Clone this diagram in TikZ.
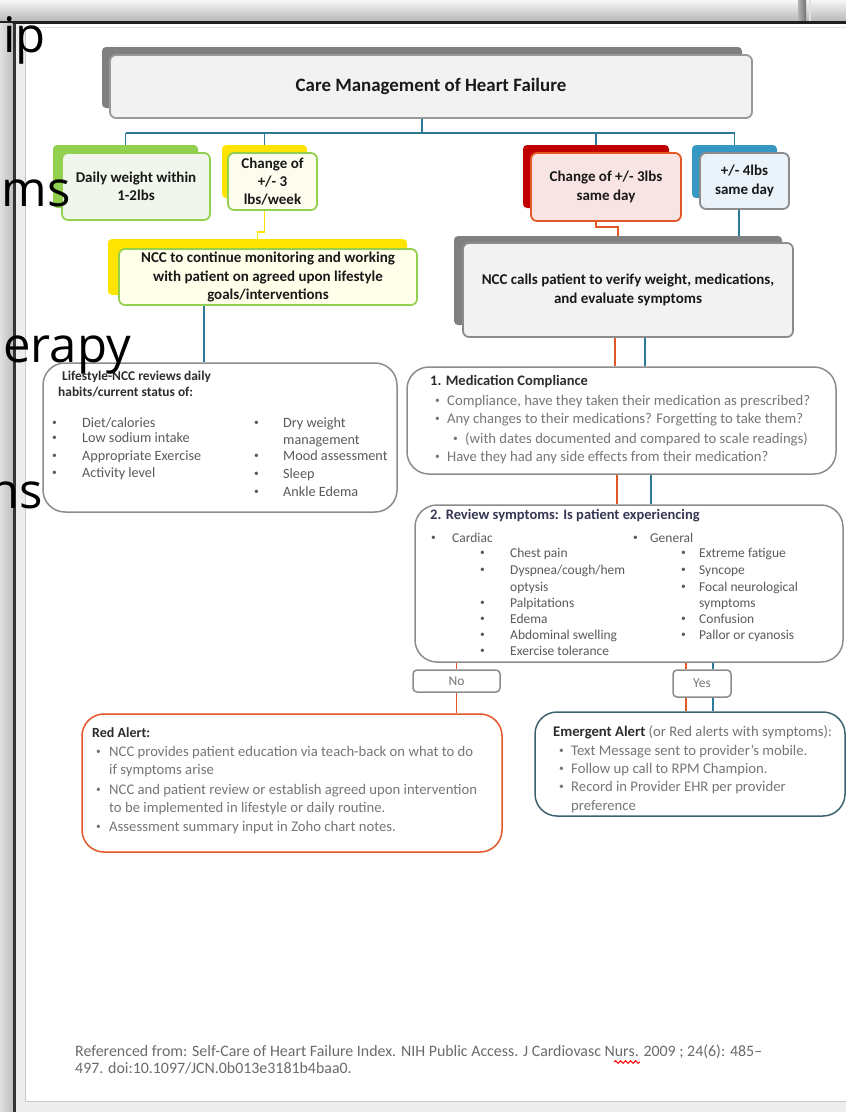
\documentclass[tikz,border=0pt]{standalone}
\usepackage{fontspec}
\setmainfont{Carlito}
\newfontfamily\bigfont{Open Sans}
\usetikzlibrary{decorations.pathmorphing}
\definecolor{cTeal}{RGB}{47,121,152}
\definecolor{cOr}{RGB}{227,88,38}
\definecolor{cYel}{RGB}{255,228,0}
\definecolor{cGreen}{RGB}{146,208,80}
\definecolor{cRed}{RGB}{192,0,0}
\definecolor{cBlue}{RGB}{56,152,196}
\definecolor{cShadow}{RGB}{128,128,128}
\definecolor{cBorder}{RGB}{140,140,140}
\definecolor{cPanel}{RGB}{242,242,242}
\definecolor{cDark}{RGB}{45,45,45}
\definecolor{cBody}{RGB}{90,90,90}
\definecolor{cLight}{RGB}{118,118,118}
\definecolor{cEmer}{RGB}{60,100,112}
\definecolor{cRev}{RGB}{55,55,85}
\newcommand\fs[2]{\fontsize{#1}{#2}\selectfont}
\begin{document}
\begin{tikzpicture}[x=1pt,y=-1pt,
  shbox/.style={rounded corners=4, inner sep=0, draw=none},
  frbox/.style={rounded corners=6, inner sep=0, line width=1.8, align=center, text=black!90, font=\bfseries\fs{15}{18.3}},
  bigbox/.style={rounded corners=22, inner sep=0, line width=1.5, draw=cBorder},
  tb/.style={anchor=base west, inner sep=0},
  bul/.style={anchor=base west, inner sep=0, yshift=1.6, font=\fs{9.5}{10}},
  tl/.style={draw=cTeal, line width=1.5},
  ol/.style={draw=cOr, line width=1.5},
  yl/.style={draw=cYel, line width=1.5},
  btext/.style={text=cBody, font=\fs{14.2}{17}},
  rtext/.style={text=cBody, font=\fs{13.5}{16}},
  mtext/.style={text=cLight, font=\fs{14.7}{18}},
  frag/.style={anchor=base east, inner sep=0, font=\bigfont\fs{49}{55}, text=black}]
\useasboundingbox (0,0) rectangle (846,1112);
% ---------- window frame ----------
\fill[white] (0,0) rectangle (846,1112);
\shade[top color=black!3, bottom color=black!28] (0,0) rectangle (846,21);
\shade[left color=black!30, right color=black!55] (798,0) rectangle (806,21);
\fill[black!12] (809,0) rectangle (811,21);
\fill[black!88] (0,21) rectangle (846,23.5);
\shade[left color=black!12, right color=black!25] (0,23.5) rectangle (12.5,1112);
\fill[black!80] (12.5,23.5) rectangle (15.5,1112);
\fill[black!7] (15.5,23.5) rectangle (25,1112);
\fill[black!7] (25,1102) rectangle (846,1112);
\draw[black!22, line width=1] (25.5,27) -- (25.5,1101.5) -- (846,1101.5);
\draw[black!12, line width=1] (25.5,27) -- (846,27);
% ---------- connectors ----------
\coordinate (bus) at (0,133);
\coordinate (bx) at (739,0);
\coordinate (lx) at (204,0);
\coordinate (o1) at (615,0);
\coordinate (t1) at (645,0);
\coordinate (o2) at (617,0);
\coordinate (t2) at (651,0);
\coordinate (o3) at (686,0);
\coordinate (t3) at (713,0);
\coordinate (j1) at (0,232);
\coordinate (j2) at (0,227);
% shadows (parents)
\node[shbox, fill=cShadow, minimum width=640, minimum height=61] (titleS) at (422,77.5) {};
\node[shbox, fill=cGreen, minimum width=145, minimum height=63] (greenS) at (125.5,176.5) {};
\node[shbox, fill=cYel, minimum width=85, minimum height=53] (yellowS) at (264.5,171.5) {};
\node[shbox, fill=cYel, minimum width=299, minimum height=56] (nccS) at (257.5,267) {};
\node[shbox, fill=cRed, minimum width=146, minimum height=63] (redS) at (596,176.5) {};
\node[shbox, fill=cBlue, minimum width=85, minimum height=53] (blueS) at (734.5,171.5) {};
\node[shbox, fill=cShadow, minimum width=328, minimum height=89] (callS) at (618,280.5) {};
% tree lines
\draw[tl] (titleS.south) -- (titleS.south |- bus);
\draw[tl] (greenS.north |- bus) -- (blueS.north |- bus);
\draw[tl] (greenS.north |- bus) -- (greenS.north);
\draw[tl] (yellowS.north |- bus) -- (yellowS.north);
\draw[tl] (redS.north |- bus) -- (redS.north);
\draw[tl] (blueS.north |- bus) -- (blueS.north);
\draw[yl] (yellowS.south) -- (yellowS.south |- j1) -| (nccS.north);
\draw[ol] (redS.south) -- (redS.south |- j2) -| (callS.north);
\draw[tl] (blueS.south) -- ++(0,8) -| (callS.north -| bx);
% front boxes
\node[frbox, draw=black!40, fill=cPanel, minimum width=642, minimum height=63, font=\bfseries\fs{18.9}{22}] (titleF) at (431,86.5) {Care Management of Heart Failure};
\node[frbox, draw=cGreen, fill={rgb,255:red,241;green,246;blue,237}, minimum width=148, minimum height=67] (greenF) at (136,186.5) {Daily weight within\\1-2lbs};
\node[frbox, draw=cGreen, fill={rgb,255:red,253;green,252;blue,238}, minimum width=89, minimum height=57] (yellowF) at (272.5,181.5) {Change of\\+/- 3\\lbs/week};
\node[frbox, draw=cGreen, fill={rgb,255:red,255;green,255;blue,234}, minimum width=298, minimum height=56] (nccF) at (268,277) {NCC to continue monitoring and working\\with patient on agreed upon lifestyle\\goals/interventions};
\node[frbox, draw=cOr, fill={rgb,255:red,249;green,228;blue,228}, minimum width=150, minimum height=68] (redF) at (606,187) {Change of +/- 3lbs\\same day};
\node[frbox, draw=black!45, fill={rgb,255:red,234;green,243;blue,250}, minimum width=89, minimum height=56] (blueF) at (744.5,181) {+/- 4lbs\\same day};
\node[frbox, draw=black!45, fill=cPanel, minimum width=330, minimum height=94] (callF) at (628,290) {NCC calls patient to verify weight, medications,\\and evaluate symptoms};
% big rounded boxes
\node[bigbox, fill=white, minimum width=354, minimum height=149] (life) at (220,437.5) {};
\node[bigbox, fill=white, minimum width=429, minimum height=107] (med) at (621.5,420.5) {};
\node[bigbox, fill=white, minimum width=428, minimum height=157] (rev) at (629,583.5) {};
\node[bigbox, rounded corners=4, fill=white, minimum width=87, minimum height=22, text=cLight, font=\fs{13.5}{16}] (no) at (456.5,681) {No};
\node[bigbox, rounded corners=4, fill=white, minimum width=58, minimum height=27, text=cLight, font=\fs{13.5}{16}] (yes) at (702,683.5) {Yes};
\node[bigbox, draw=cOr, fill=white, minimum width=420, minimum height=138] (redal) at (292,783) {};
\node[bigbox, draw=cEmer, fill=white, minimum width=310, minimum height=104] (emer) at (690,764) {};
% lower connectors
\draw[tl] (nccF.south -| lx) -- (life.north -| lx);
\draw[ol] (callF.south -| o1) -- (med.north -| o1);
\draw[tl] (callF.south -| t1) -- (med.north -| t1);
\draw[ol] (med.south -| o2) -- (rev.north -| o2);
\draw[tl] (med.south -| t2) -- (rev.north -| t2);
\draw[ol] (rev.south -| no.north) -- (no.north);
\draw[ol] (no.south) -- (redal.north -| no.south);
\draw[ol] (rev.south -| o3) -- (yes.north -| o3);
\draw[tl] (rev.south -| t3) -- (yes.north -| t3);
\draw[ol] (yes.south -| o3) -- (emer.north -| o3);
\draw[tl] (yes.south -| t3) -- (emer.north -| t3);
% ---------- lifestyle texts ----------
\node[tb, text=cDark, font=\bfseries\fs{13.4}{16}] (lh1) at (62,380.5) {Lifestyle-NCC reviews daily};
\node[tb, text=cDark, font=\bfseries\fs{13.4}{16}] (lh2) at (58,396.5) {habits/current status of:};
\foreach \t/\y [count=\i] in {{Diet/calories}/427, {Low sodium intake}/442, {Appropriate Exercise}/460, {Activity level}/477}{
  \node[bul, text=cBody] (lb\i) at (52,\y) {•};
  \node[tb, btext] (lt\i) at (82,\y) {\t};
}
\foreach \t/\y [count=\i] in {{Dry weight}/427, {Mood assessment}/460, {Sleep}/478, {Ankle Edema}/496}{
  \node[bul, text=cBody] (rb\i) at (254,\y) {•};
  \node[tb, btext] (rt\i) at (283,\y) {\t};
}
\node[tb, btext] (rt5) at (283,444) {management};
% ---------- medication texts ----------
\node[tb, text=cDark, font=\bfseries\fs{14.5}{17}] (mh) at (430,385) {1. Medication Compliance};
\foreach \t/\y [count=\i] in {{Compliance, have they taken their medication as prescribed?}/405, {Any changes to their medications? Forgetting to take them?}/423, {Have they had any side effects from their medication?}/461}{
  \node[bul, text=cLight] (mb\i) at (435,\y) {•};
  \node[tb, mtext] (mt\i) at (447,\y) {\t};
}
\node[bul, text=cLight] (mb4) at (453,443) {•};
\node[tb, mtext] (mt4) at (465,443) {(with dates documented and compared to scale readings)};
% ---------- review texts ----------
\node[tb, text=cRev, font=\bfseries\fs{14.5}{17}] (rh) at (430,519) {2. Review symptoms: Is patient experiencing};
\node[bul, text=cBody] (cb) at (431,542) {•};
\node[tb, rtext] (ct) at (452,542) {Cardiac};
\node[bul, text=cBody] (gb) at (633,542) {•};
\node[tb, rtext] (gt) at (650,542) {General};
\foreach \t/\y [count=\i] in {{Chest pain}/557, {Dyspnea/cough/hem}/574, {Palpitations}/607, {Edema}/623, {Abdominal swelling}/639, {Exercise tolerance}/655}{
  \node[bul, text=cBody] (cbb\i) at (480,\y) {•};
  \node[tb, rtext] (ctt\i) at (510,\y) {\t};
}
\node[tb, rtext] (ctt7) at (510,591) {optysis};
\foreach \t/\y [count=\i] in {{Extreme fatigue}/557, {Syncope}/574, {Focal neurological}/591, {Confusion}/623, {Pallor or cyanosis}/639}{
  \node[bul, text=cBody] (gbb\i) at (681,\y) {•};
  \node[tb, rtext] (gtt\i) at (699,\y) {\t};
}
\node[tb, rtext] (gtt6) at (699,607) {symptoms};
% ---------- red alert texts ----------
\node[tb, text=cDark, font=\bfseries\fs{14}{17}] (ra) at (92,737) {Red Alert:};
\node[bul, text=cLight] (rab1) at (96,756) {•};
\node[tb, mtext] (rat1) at (109,756) {NCC provides patient education via teach-back on what to do};
\node[tb, mtext] (rat2) at (109,774) {if symptoms arise};
\node[bul, text=cLight] (rab3) at (96,794) {•};
\node[tb, mtext] (rat3) at (109,794) {NCC and patient review or establish agreed upon intervention};
\node[tb, mtext] (rat4) at (109,812) {to be implemented in lifestyle or daily routine.};
\node[bul, text=cLight] (rab5) at (96,831) {•};
\node[tb, mtext] (rat5) at (109,831) {Assessment summary input in Zoho chart notes.};
% ---------- emergent texts ----------
\node[tb, mtext] (ea) at (553,736) {\textcolor{cDark}{\bfseries Emergent Alert} (or Red alerts with symptoms):};
\node[bul, text=cLight] (eb1) at (559,755) {•};
\node[tb, mtext] (et1) at (571,755) {Text Message sent to provider’s mobile.};
\node[bul, text=cLight] (eb2) at (559,773) {•};
\node[tb, mtext] (et2) at (571,773) {Follow up call to RPM Champion.};
\node[bul, text=cLight] (eb3) at (559,791) {•};
\node[tb, mtext] (et3) at (571,791) {Record in Provider EHR per provider};
\node[tb, mtext] (et4) at (571,810) {preference};
% ---------- footer ----------
\node[tb, text=black!58, font=\fs{15.9}{17}] (f1) at (75,1056) {Referenced from: Self-Care of Heart Failure Index. NIH Public Access. J Cardiovasc Nurs. 2009 ; 24(6): 485–};
\node[tb, text=black!58, font=\fs{15.9}{17}] (f2) at (75,1073) {497. doi:10.1097/JCN.0b013e3181b4baa0.};
\draw[red, line width=1, decorate, decoration={snake, amplitude=1.3, segment length=5}] (614,1062) -- (640,1062);
% ---------- slide fragments ----------
\node[frag] (fr1) at (46,52) {ip};
\node[frag] (fr2) at (71,206) {ms};
\node[frag] (fr3) at (131,362) {erapy};
\node[frag] (fr4) at (43,508) {ns};
\end{tikzpicture}
\end{document}
